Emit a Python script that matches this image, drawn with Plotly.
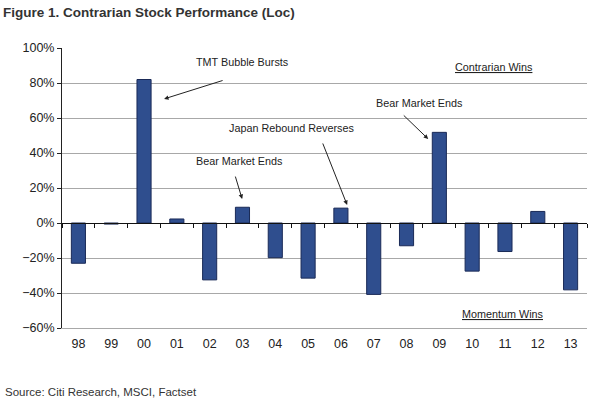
import plotly.graph_objects as go

# yearly contrarian minus momentum performance (%)
years = ["98", "99", "00", "01", "02", "03", "04", "05",
         "06", "07", "08", "09", "10", "11", "12", "13"]
perf = [-23, -0.6, 82, 2.3, -32.5, 9, -19.8, -31.5,
        8.5, -40.8, -13, 51.8, -27.5, -16.3, 6.6, -38.2]

y_min, y_max = -60, 100
zero_pos = (0 - y_min) / (y_max - y_min)

BAR = "#2F4E8E"
BAR_EDGE = "#1A2A57"
GRID = "#a8a8a8"
TXT = "#222222"
FONT = "Liberation Sans, Arial, sans-serif"

fig = go.Figure()
fig.add_trace(go.Bar(x=years, y=perf, marker=dict(color=BAR, line=dict(color=BAR_EDGE, width=1)),
                     hoverinfo="x+y"))
# same bars on the overlay axis, hidden, just so the zero-line axis gets its categories
fig.add_trace(go.Bar(x=years, y=perf, xaxis="x2", opacity=0, hoverinfo="skip", showlegend=False))

fig.update_layout(
    width=590, height=403,
    margin=dict(l=62, r=3, t=48, b=75),
    paper_bgcolor="white", plot_bgcolor="white",
    showlegend=False,
    bargap=0.57, barmode="overlay",
    font=dict(family=FONT, size=12, color=TXT),
    title=dict(text="<b>Figure 1. Contrarian Stock Performance (Loc)</b>",
               font=dict(family="Liberation Sans Narrow, Arial Narrow, Liberation Sans, Arial",
                         size=13.5, color="#333333"),
               x=0.005, xanchor="left", xref="container",
               y=1 - 12 / 403, yanchor="middle", yref="container"),
    xaxis=dict(type="category", showline=True, linecolor=GRID, linewidth=1,
               ticks="", showgrid=False, tickfont=dict(size=12.5, color=TXT),
               ticklabelstandoff=4),
    xaxis2=dict(type="category", overlaying="x", matches="x", anchor="free",
                position=zero_pos, side="bottom", showline=True, linecolor="#111111",
                linewidth=1, ticks="outside", tickson="boundaries", ticklen=4,
                tickcolor="#111111", showticklabels=False, showgrid=False),
    yaxis=dict(range=[y_min, y_max], dtick=20, ticksuffix="%",
               showline=True, linecolor="#222222", linewidth=1,
               ticks="outside", ticklen=4, tickcolor="#222222",
               showgrid=True, gridcolor=GRID, gridwidth=1, zeroline=False,
               tickfont=dict(size=12.5, color=TXT)),
)

notes = [
    ("TMT Bubble Bursts", 5.0, 92),
    ("Bear Market Ends", 4.9, 35.4),
    ("Japan Rebound Reverses", 6.5, 54.3),
    ("Bear Market Ends", 10.4, 68.6),
    ("<u>Contrarian Wins</u>", 12.67, 89),
    ("<u>Momentum Wins</u>", 12.94, -52),
]
for text, x, y in notes:
    fig.add_annotation(text=text, x=x, y=y, xref="x", yref="y", showarrow=False,
                       font=dict(family=FONT, size=10.8, color=TXT))

# arrows: (head x, head y, tail x, tail y)
arrows = [
    (2.61, 70.9, 4.44, 81.7),
    (4.99, 13.7, 4.77, 27.4),
    (8.19, 10.3, 7.43, 46.3),
    (10.66, 48.0, 9.87, 62.3),
]
for hx, hy, tx, ty in arrows:
    fig.add_annotation(text="", x=hx, y=hy, ax=tx, ay=ty, xref="x", yref="y",
                       axref="x", ayref="y", showarrow=True, arrowhead=2,
                       arrowsize=0.9, arrowwidth=1, arrowcolor="#222222")

fig.add_annotation(text="Source: Citi Research, MSCI, Factset", xref="paper", yref="paper",
                   x=(3 - 62) / 525, y=(328 - 392) / 280, xanchor="left", yanchor="middle",
                   showarrow=False, font=dict(family=FONT, size=11.5, color="#333333"))

# page body has a default 8px margin, drop it so the figure fills the window
fig.write_html("out.html", config={"displayModeBar": False},
               post_script="document.body.style.margin='0px';")
